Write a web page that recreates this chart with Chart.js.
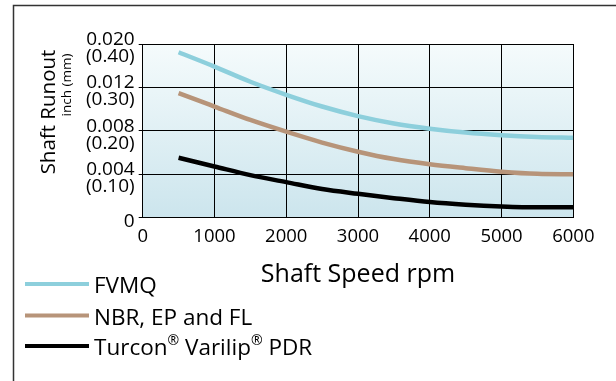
<!DOCTYPE html>
<html>
<head>
<meta charset="utf-8">
<script src="https://cdn.jsdelivr.net/npm/chart.js@4"></script>
<style>
  html, body { margin: 0; padding: 0; background: #ffffff; }
  #wrap { position: relative; width: 616px; height: 381px; }
</style>
</head>
<body>
<div id="wrap"><canvas id="c"></canvas></div>
<script>
// ---- data ----
const speeds = [500, 1000, 1500, 2000, 2500, 3000, 3500, 4000, 4500, 5000, 5500, 6000];
const fvmq   = [0.381, 0.348, 0.313, 0.283, 0.256, 0.234, 0.217, 0.205, 0.196, 0.190, 0.186, 0.184];
const nbr    = [0.287, 0.256, 0.225, 0.198, 0.173, 0.152, 0.135, 0.123, 0.114, 0.106, 0.101, 0.100];
const turcon = [0.138, 0.118, 0.098, 0.082, 0.066, 0.055, 0.045, 0.036, 0.030, 0.026, 0.024, 0.024];
const seriesNames = ['FVMQ', 'NBR, EP and FL', 'Turcon® Varilip® PDR'];
const inchLabels = ['0', '0.004', '0.008', '0.012', '0.020'];
const mmLabels   = ['', '(0.10)', '(0.20)', '(0.30)', '(0.40)'];
const xTicks     = [0, 1000, 2000, 3000, 4000, 5000, 6000];
const yTitle     = 'Shaft Runout';
const ySubTitle  = 'inch (mm)';
const xTitle     = 'Shaft Speed rpm';

const FONT = "'Open Sans', 'Noto Sans', sans-serif";
const colors = ['#8dcfdc', '#b79479', '#000000'];

function pts(vals) { return vals.map((v, i) => ({ x: speeds[i], y: v })); }

const bgPlugin = {
  id: 'bg',
  beforeDraw(chart) {
    const { ctx, chartArea: a } = chart;
    ctx.save();
    ctx.strokeStyle = '#333333';
    ctx.lineWidth = 1.5;
    ctx.strokeRect(13.5, 5.5, 700, 500);
    const g = ctx.createLinearGradient(0, a.top, 0, a.bottom);
    g.addColorStop(0, '#f5fbfc');
    g.addColorStop(1, '#cce5ed');
    ctx.fillStyle = g;
    ctx.fillRect(a.left, a.top, a.right - a.left, a.bottom - a.top);
    ctx.restore();
  },
  afterDraw(chart) {
    const { ctx } = chart;
    ctx.save();
    ctx.fillStyle = '#000';
    ctx.translate(49, 112);
    ctx.rotate(-Math.PI / 2);
    ctx.font = '20.5px ' + FONT;
    ctx.textAlign = 'center';
    ctx.textBaseline = 'middle';
    ctx.fillText(yTitle, 0, 0);
    ctx.restore();
    ctx.save();
    ctx.fillStyle = '#000';
    ctx.translate(67, 85);
    ctx.rotate(-Math.PI / 2);
    ctx.font = '13.5px ' + FONT;
    ctx.textAlign = 'center';
    ctx.textBaseline = 'middle';
    ctx.fillText(ySubTitle, 0, 0);
    ctx.restore();

    const ys = [284, 315.5, 346];
    chart.data.datasets.forEach((ds, i) => {
      const y = ys[i];
      ctx.save();
      ctx.strokeStyle = ds.borderColor;
      ctx.lineWidth = 4;
      ctx.beginPath();
      ctx.moveTo(25, y);
      ctx.lineTo(89, y);
      ctx.stroke();
      ctx.fillStyle = '#000';
      ctx.textBaseline = 'middle';
      ctx.textAlign = 'left';
      let x = 94;
      const parts = ds.label.split('®');
      parts.forEach((p, k) => {
        ctx.font = '22.5px ' + FONT;
        ctx.fillText(p, x, y + 3);
        x += ctx.measureText(p).width;
        if (k < parts.length - 1) {
          ctx.font = '14px ' + FONT;
          ctx.fillText('®', x, y - 5);
          x += ctx.measureText('®').width;
        }
      });
      ctx.restore();
    });
  }
};

new Chart(document.getElementById('c'), {
  type: 'line',
  data: {
    datasets: [
      { label: seriesNames[0], data: pts(fvmq), borderColor: colors[0] },
      { label: seriesNames[1], data: pts(nbr), borderColor: colors[1] },
      { label: seriesNames[2], data: pts(turcon), borderColor: colors[2] }
    ]
  },
  options: {
    responsive: true,
    maintainAspectRatio: false,
    animation: false,
    events: [],
    layout: { padding: { left: 0, top: 44, right: 42.7, bottom: 91.3 } },
    elements: {
      line: { borderWidth: 4.5, tension: 0.4, cubicInterpolationMode: 'monotone', fill: false },
      point: { radius: 0 }
    },
    plugins: { legend: { display: false }, tooltip: { enabled: false } },
    scales: {
      x: {
        type: 'linear',
        min: 0, max: 6000,
        afterFit(s) { s.height = 72; },
        afterBuildTicks(s) { s.ticks = xTicks.map(v => ({ value: v })); },
        grid: { color: '#000', lineWidth: 1, drawTicks: false },
        border: { color: '#000', width: 1 },
        ticks: {
          color: '#000', padding: 8, maxRotation: 0,
          font: { family: FONT, size: 18.5 },
          callback(value) { return String(value); }
        },
        title: { display: true, text: xTitle, color: '#000', padding: { top: 0, bottom: 0 }, font: { family: FONT, size: 25 } }
      },
      y: {
        type: 'linear',
        min: 0, max: 0.4,
        afterFit(s) { s.width = 142.7; },
        afterBuildTicks(s) { s.ticks = inchLabels.map((_, i) => ({ value: i * 0.1 })); },
        grid: { color: '#000', lineWidth: 1, tickLength: 4 },
        border: { color: '#000', width: 1 },
        ticks: {
          color: '#000',
          padding: 4,
          labelOffset: 4,
          font: { family: FONT, size: 19, lineHeight: 0.9 },
          callback(value, index) {
            return mmLabels[index] ? [inchLabels[index], mmLabels[index]] : inchLabels[index];
          }
        }
      }
    }
  },
  plugins: [bgPlugin]
});
</script>
</body>
</html>
